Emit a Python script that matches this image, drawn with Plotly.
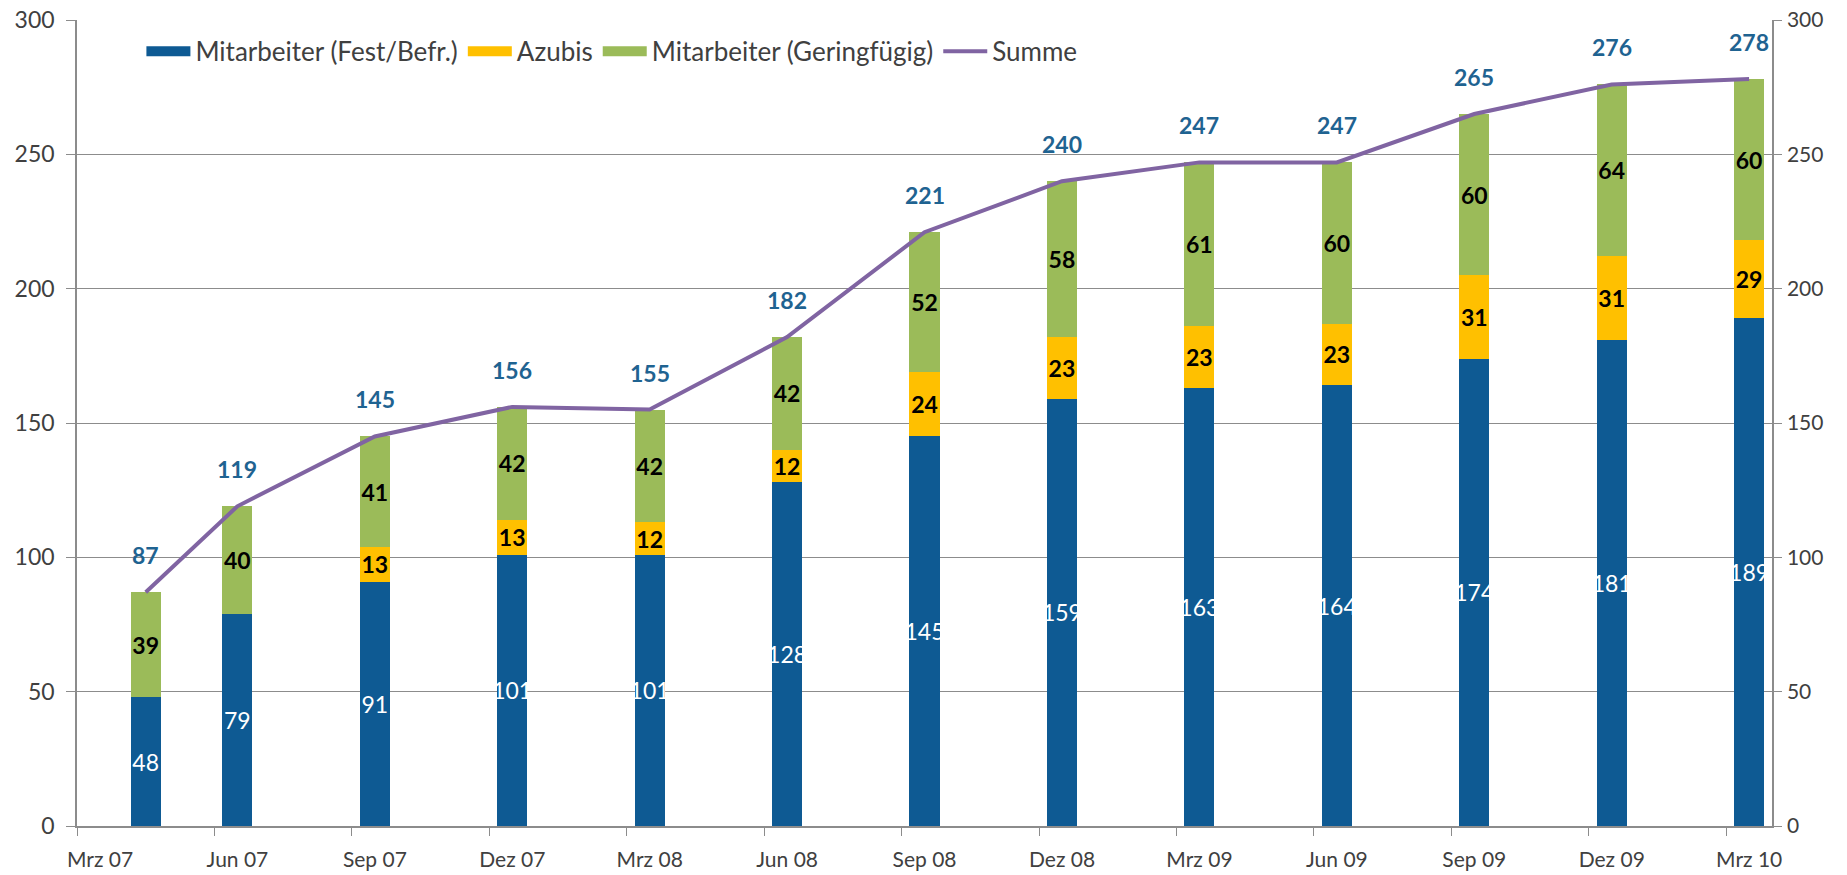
import plotly.graph_objects as go

# ---- data ----
dates = ["2007-04", "2007-06", "2007-09", "2007-12", "2008-03", "2008-06", "2008-09",
         "2008-12", "2009-03", "2009-06", "2009-09", "2009-12", "2010-03"]
fest = [48, 79, 91, 101, 101, 128, 145, 159, 163, 164, 174, 181, 189]
azubis = [0, 0, 13, 13, 12, 12, 24, 23, 23, 23, 31, 31, 29]
gering = [39, 40, 41, 42, 42, 42, 52, 58, 61, 60, 60, 64, 60]
summe = [87, 119, 145, 156, 155, 182, 221, 240, 247, 247, 265, 276, 278]

tick_dates = ["2007-03", "2007-06", "2007-09", "2007-12", "2008-03", "2008-06", "2008-09",
              "2008-12", "2009-03", "2009-06", "2009-09", "2009-12", "2010-03"]
tick_labels = ["Mrz 07", "Jun 07", "Sep 07", "Dez 07", "Mrz 08", "Jun 08", "Sep 08",
               "Dez 08", "Mrz 09", "Jun 09", "Sep 09", "Dez 09", "Mrz 10"]

names = ["Mitarbeiter (Fest/Befr.)", "Azubis", "Mitarbeiter (Geringfügig)", "Summe"]
colors = ["#0E5A93", "#FFC000", "#9BBB59", "#8064A2"]


def month_index(s, base="2007-03"):
    y, m = map(int, s.split("-"))
    by, bm = map(int, base.split("-"))
    return (y - by) * 12 + (m - bm)


xm = [month_index(d) for d in dates]
tm = [month_index(d) for d in tick_dates]

FONT = "Lato"
fig = go.Figure()

series = [(fest, colors[0], "white", "normal"),
          (azubis, colors[1], "black", "bold"),
          (gering, colors[2], "black", "bold")]
for (vals, col, tcol, tw), name in zip(series, names[:3]):
    fig.add_trace(go.Bar(
        x=xm, y=vals, name=name, marker=dict(color=col, line=dict(width=0)),
        width=0.66, showlegend=False, legendgroup=name,
        text=[str(v) if v else "" for v in vals], textposition="inside",
        insidetextanchor="middle", textangle=0, constraintext="none",
        textfont=dict(family=FONT, size=23, color=tcol, weight=tw),
        hoverinfo="skip",
    ))
    # legend proxy (wide rectangle look)
    fig.add_trace(go.Scatter(
        x=[None], y=[None], mode="lines", name=name, legendgroup=name,
        line=dict(color=col, width=13),
    ))

fig.add_trace(go.Scatter(
    x=xm, y=summe, mode="lines", name=names[3], yaxis="y2",
    line=dict(color=colors[3], width=4), hoverinfo="skip",
))

for x, y in zip(xm, summe):
    fig.add_annotation(x=x, y=y, text="<b>%d</b>" % y, showarrow=False,
                       yshift=37, font=dict(family=FONT, size=23, color="#1F6391"))

axis_col = "#8C8C8C"
fig.update_layout(
    width=1847, height=875,
    margin=dict(l=77, r=75, t=20, b=49),
    paper_bgcolor="white", plot_bgcolor="white",
    barmode="stack",
    font=dict(family=FONT, color="#404040"),
    uniformtext=dict(mode="show", minsize=23),
    legend=dict(orientation="h", x=0.038, y=0.961, xanchor="left", yanchor="middle",
                font=dict(family=FONT, size=26, color="#404040"),
                itemwidth=44,
                bgcolor="rgba(0,0,0,0)", traceorder="normal"),
    xaxis=dict(range=[-0.5, 36.5], tickmode="array", automargin=False,
               tickvals=[t - 0.5 for t in tm], ticktext=tick_labels,
               ticklabelshift=23, ticklabelstandoff=6, ticklabeloverflow="allow",
               ticks="outside", ticklen=8, tickcolor=axis_col,
               showline=True, linecolor=axis_col, linewidth=1.5,
               showgrid=False, zeroline=False,
               tickfont=dict(family=FONT, size=21, color="#404040")),
    yaxis=dict(range=[0, 300], dtick=50, ticks="outside", ticklen=9, tickcolor=axis_col,
               automargin=False, ticklabeloverflow="allow",
               showline=True, linecolor=axis_col, linewidth=1.5,
               showgrid=True, gridcolor=axis_col, gridwidth=1.2, zeroline=False,
               tickfont=dict(family=FONT, size=23, color="#404040"), ticklabelstandoff=7),
    yaxis2=dict(range=[0, 300], dtick=50, overlaying="y", side="right",
                automargin=False, ticklabeloverflow="allow",
                ticks="outside", ticklen=8, tickcolor=axis_col,
                showline=True, linecolor=axis_col, linewidth=1.5,
                showgrid=False, zeroline=False,
                tickfont=dict(family=FONT, size=21, color="#404040"), ticklabelstandoff=1),
)

fig.write_html("out.html", config={"displayModeBar": False},
               post_script="document.body.style.margin='0';document.body.style.overflow='hidden';")
